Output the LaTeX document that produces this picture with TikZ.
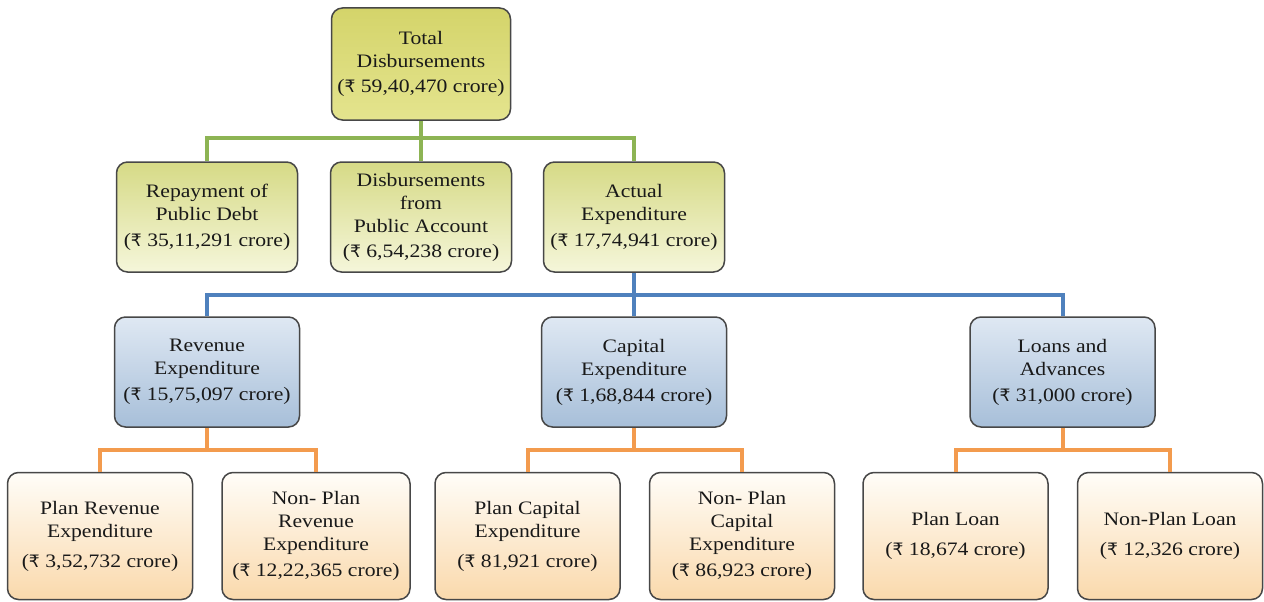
\documentclass[tikz,border=0pt]{standalone}
\usepackage{fontspec}
\setmainfont[FakeStretch=1.14]{Liberation Serif}
\newfontfamily\rupeefont{DejaVu Sans}[Scale=0.9]
\newcommand\rs{{\rupeefont ₹}}
\usetikzlibrary{shadings}
\definecolor{bordc}{HTML}{474747}
\definecolor{glin}{HTML}{8DB454}
\definecolor{blin}{HTML}{4F81BD}
\definecolor{olin}{HTML}{F39B4E}
\definecolor{ytop}{HTML}{D4D46A}
\definecolor{ybot}{HTML}{E4E48E}
\definecolor{gtop}{HTML}{D6DA86}
\definecolor{gbot}{HTML}{F5F6DA}
\definecolor{btop}{HTML}{DFE8F3}
\definecolor{bbot}{HTML}{A7BFD9}
\definecolor{otop}{HTML}{FFFDF8}
\definecolor{obot}{HTML}{FAD9AC}
\tikzset{
  boxbase/.style={draw=bordc, line width=1.5pt, rounded corners=11pt, align=center,
    font=\fontsize{19}{23}\selectfont, text=black!90, inner sep=0pt},
  ybox/.style={boxbase, top color=ytop, bottom color=ybot, minimum width=179pt, minimum height=112pt},
  gbox/.style={boxbase, top color=gtop, bottom color=gbot, minimum width=181pt, minimum height=110pt},
  bbox/.style={boxbase, top color=btop, bottom color=bbot, minimum width=185pt, minimum height=110pt},
  obox/.style={boxbase, top color=otop, bottom color=obot, minimum width=185pt, minimum height=127pt},
  gl/.style={draw=glin, line width=4pt},
  bl/.style={draw=blin, line width=4pt},
  ol/.style={draw=olin, line width=4pt},
}
\begin{document}
\begin{tikzpicture}[x=1pt,y=-1pt]
\useasboundingbox (0,0) rectangle (1264,602);
% nodes
\node[ybox] (tot) at (421,64) {Total\\Disbursements\\[2pt](\rs{} 59,40,470 crore)};
\node[gbox] (rep) at (207,217) {Repayment of\\Public Debt\\[3pt](\rs{} 35,11,291 crore)};
\node[gbox] (dpa) at (421,217) {Disbursements\\from\\Public Account\\[2pt](\rs{} 6,54,238 crore)};
\node[gbox] (act) at (634,217) {Actual\\Expenditure\\[3pt](\rs{} 17,74,941 crore)};
\node[bbox] (rev) at (207,372) {Revenue\\Expenditure\\[3pt](\rs{} 15,75,097 crore)};
\node[bbox] (cap) at (634,372) {Capital\\Expenditure\\[3pt](\rs{} 1,68,844 crore)};
\node[bbox] (loa) at (1062.5,372) {Loans and\\Advances\\[3pt](\rs{} 31,000 crore)};
\node[obox] (prv) at (100,536) {Plan Revenue\\Expenditure\\[7pt](\rs{} 3,52,732 crore)};
\node[obox, minimum width=188pt] (nrv) at (316,536) {Non- Plan\\Revenue\\Expenditure\\[3pt](\rs{} 12,22,365 crore)};
\node[obox] (pca) at (527.5,536) {Plan Capital\\Expenditure\\[7pt](\rs{} 81,921 crore)};
\node[obox] (nca) at (742,536) {Non- Plan\\Capital\\Expenditure\\[3pt](\rs{} 86,923 crore)};
\node[obox] (plo) at (955.5,536) {Plan Loan\\[7pt](\rs{} 18,674 crore)};
\node[obox] (nlo) at (1170,536) {Non-Plan Loan\\[7pt](\rs{} 12,326 crore)};
% junctions
\coordinate (gj) at (421,138);
\coordinate (bj) at (634,295);
\coordinate (oj) at (0,450);
% connectors
\draw[gl] (tot.south) -- (dpa.north);
\draw[gl] (rep.north) -- (rep.north |- gj) -- (act.north |- gj) -- (act.north);
\draw[bl] (act.south) -- (cap.north);
\draw[bl] (rev.north) -- (rev.north |- bj) -- (loa.north |- bj) -- (loa.north);
\draw[ol] (rev.south) -- (rev.south |- oj);
\draw[ol] (prv.north) -- (prv.north |- oj) -- (nrv.north |- oj) -- (nrv.north);
\draw[ol] (cap.south) -- (cap.south |- oj);
\draw[ol] (pca.north) -- (pca.north |- oj) -- (nca.north |- oj) -- (nca.north);
\draw[ol] (loa.south) -- (loa.south |- oj);
\draw[ol] (plo.north) -- (plo.north |- oj) -- (nlo.north |- oj) -- (nlo.north);
\end{tikzpicture}
\end{document}
